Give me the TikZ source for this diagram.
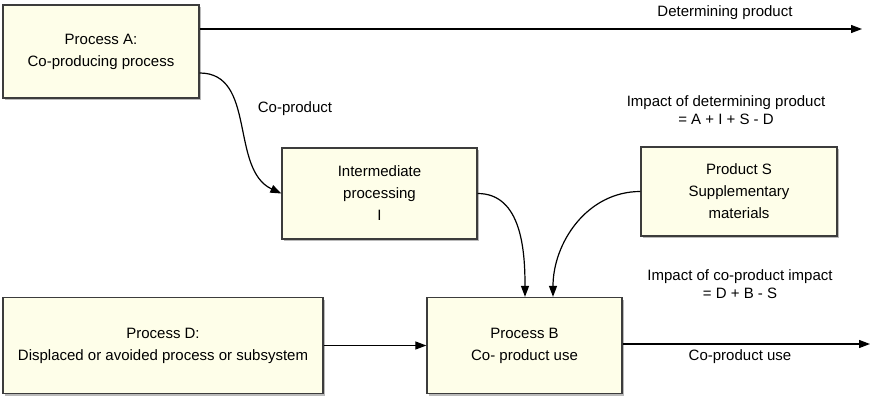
\documentclass[tikz,border=0pt]{standalone}
\usepackage{fontspec}
\setmainfont{Liberation Sans}
\usetikzlibrary{arrows.meta,shadows}

\definecolor{boxfill}{RGB}{254,254,233}
\definecolor{boxline}{RGB}{60,60,60}

\tikzset{
  procbox/.style={draw=boxline, line width=1.3pt, fill=boxfill, inner sep=0pt,
    align=center, font=\fontsize{15}{22}\selectfont,
    drop shadow={shadow xshift=2pt, shadow yshift=-2pt, fill=black!60, opacity=0.45}},
  lbl/.style={align=center, font=\fontsize{15}{18}\selectfont, inner sep=0pt},
  arr/.style={line width=1.2pt, -{Triangle[length=11pt,width=8pt]}}
}

\begin{document}
\begin{tikzpicture}[x=1pt,y=-1pt]
  \useasboundingbox (0,0) rectangle (874,396);

  % process boxes
  \node[procbox, minimum width=196pt, minimum height=93pt] (A) at (101,51.5)
    {Process A:\\Co-producing process};
  \node[procbox, minimum width=195pt, minimum height=91pt] (I) at (379.5,193.5)
    {Intermediate\\processing\\I};
  \node[procbox, minimum width=196pt, minimum height=89pt] (S) at (739,191.5)
    {Product S\\Supplementary\\materials};
  \node[procbox, minimum width=320pt, minimum height=96pt] (D) at (163,345.5)
    {Process D:\\Displaced or avoided process or subsystem};
  \node[procbox, minimum width=195pt, minimum height=96pt] (B) at (524.5,345.5)
    {Process B\\Co- product use};

  % free ends of the outgoing flows
  \coordinate (dpEnd) at (862,29);
  \coordinate (cuEnd) at (870,344);

  % flows
  \draw[arr] ([yshift=22.5pt]A.east) -- (dpEnd);
  \draw[arr] ([yshift=-21.5pt]A.east) to[out=0,in=155] (I.west);
  \draw[arr] (I.east) to[out=0,in=90] ([xshift=0.5pt]B.north);
  \draw[arr] (S.west) to[out=180,in=90] ([xshift=28.5pt]B.north);
  \draw[arr] (D.east) -- (B.west);
  \draw[arr] ([yshift=1.5pt]B.east) -- (cuEnd);

  % labels
  \node[lbl] (lblDp) at (725,13) {Determining product};
  \node[lbl] (lblCp) at (295,109) {Co-product};
  \node[lbl] (lblCu) at (740,357) {Co-product use};
  \node[lbl] (impDet) at (726,110) {Impact of determining product\\= A + I + S - D};
  \node[lbl] (impCo) at (740,284) {Impact of co-product impact\\= D + B - S};
\end{tikzpicture}
\end{document}
